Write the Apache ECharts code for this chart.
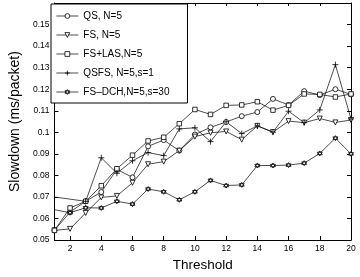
<!DOCTYPE html>
<html>
<head>
<meta charset="utf-8">
<script src="https://cdn.jsdelivr.net/npm/echarts@6/dist/echarts.min.js"></script>
<style>html,body{margin:0;padding:0;background:#fff}#c{width:360px;height:277px}</style>
</head>
<body>
<div id="c"></div>
<script>
// ---- data ----
const thresholds = [1,2,3,4,5,6,7,8,9,10,11,12,13,14,15,16,17,18,19,20];
const qs    = [0.0545,0.0630,0.0680,0.0723,0.0828,0.0791,0.0935,0.0964,0.0915,0.0990,0.1023,0.1048,0.1075,0.1094,0.1155,0.1127,0.1191,0.1173,0.1200,0.1176];
const fs    = [0.0545,0.0552,0.0626,0.0698,0.0705,0.0766,0.0852,0.0864,0.0915,0.0980,0.0998,0.1004,0.0966,0.1030,0.1001,0.1052,0.1045,0.1064,0.1046,0.1057];
const fsLas = [0.0545,0.0649,0.0680,0.0752,0.0831,0.0894,0.0960,0.0977,0.1040,0.1106,0.1083,0.1125,0.1127,0.1142,0.1103,0.1125,0.1178,0.1176,0.1164,0.1178];
const qsfsX = [0,3,4,5,6,7,8,9,10,11,12,13,14,15,16,17,18,19,20];
const qsfs  = [0.0710,0.0680,0.0882,0.0810,0.0868,0.0906,0.0892,0.1016,0.1021,0.0957,0.1049,0.0994,0.1030,0.1001,0.1098,0.1045,0.1104,0.1314,0.1062];
const dchX  = [0,2,3,4,5,6,7,8,9,10,11,12,13,14,15,16,17,18,19,20];
const fsDch = [0.0655,0.0627,0.0650,0.0649,0.0680,0.0667,0.0737,0.0724,0.0687,0.0724,0.0777,0.0753,0.0756,0.0846,0.0846,0.0848,0.0857,0.0902,0.0973,0.0900];
const xTicks = [2,4,6,8,10,12,14,16,18,20];
const yTicks = [0.05,0.06,0.07,0.08,0.09,0.10,0.11,0.12,0.13,0.14,0.15];
const seriesNames = ['QS, N=5','FS, N=5','FS+LAS,N=5','QSFS, N=5,s=1','FS–DCH,N=5,s=30'];

const FONT = 'Liberation Sans';
const pairs = (xs, ys) => xs.map((x, i) => [x, ys[i]]);

function mk(name, data, symbol, extra) {
  return Object.assign({
    name: name, type: 'line', data: data,
    symbol: symbol, symbolSize: 5,
    lineStyle: {color: '#000', width: 0.7},
    itemStyle: {color: '#fff', borderColor: '#000', borderWidth: 0.8},
    emphasis: {disabled: true},
    clip: true, z: 3
  }, extra || {});
}

const axisCommon = {
  axisLine: {show: true, lineStyle: {color: '#000', width: 1}},
  axisTick: {show: true, inside: true, length: 4, lineStyle: {color: '#000', width: 1}},
  splitLine: {show: false}
};

const chart = echarts.init(document.getElementById('c'), null, {renderer: 'canvas'});
chart.setOption({
  animation: false,
  backgroundColor: '#fff',
  grid: {left: 42, right: 9, top: 3, bottom: 30, containLabel: false},
  legend: {
    left: 51, top: 4, orient: 'vertical',
    itemWidth: 22, itemHeight: 6, itemGap: 9,
    padding: [7, 18, 6, 5],
    borderColor: '#000', borderWidth: 1, backgroundColor: '#fff',
    itemStyle: {color: '#fff', borderColor: '#000', borderWidth: 0.8},
    lineStyle: {color: '#000', width: 0.7},
    textStyle: {fontSize: 10, color: '#000', fontFamily: FONT},
    data: seriesNames
  },
  xAxis: [
    Object.assign({}, axisCommon, {
      type: 'value', min: 1, max: 20, position: 'bottom',
      name: 'Threshold', nameLocation: 'middle', nameGap: 12,
      nameTextStyle: {fontSize: 13.5, color: '#000', fontFamily: FONT},
      axisTick: Object.assign({}, axisCommon.axisTick, {customValues: xTicks}),
      axisLabel: {customValues: xTicks, fontSize: 8.5, color: '#000', fontFamily: FONT, margin: 4}
    }),
    Object.assign({}, axisCommon, {
      type: 'value', min: 1, max: 20, position: 'top',
      axisTick: Object.assign({}, axisCommon.axisTick, {customValues: xTicks, length: 3}),
      axisLabel: {show: false}
    })
  ],
  yAxis: [
    Object.assign({}, axisCommon, {
      type: 'value', min: 0.05, max: 0.16, position: 'left',
      name: 'Slowdown (ms/packet)', nameLocation: 'middle', nameGap: 23,
      nameTextStyle: {fontSize: 14, color: '#000', fontFamily: FONT},
      axisTick: Object.assign({}, axisCommon.axisTick, {customValues: yTicks}),
      axisLabel: {customValues: yTicks, fontSize: 8.5, color: '#000', fontFamily: FONT, margin: 5,
        formatter: v => String(Math.round(v * 100) / 100)}
    }),
    Object.assign({}, axisCommon, {
      type: 'value', min: 0.05, max: 0.16, position: 'right',
      axisTick: Object.assign({}, axisCommon.axisTick, {customValues: yTicks}),
      axisLabel: {show: false}
    })
  ],
  series: [
    mk(seriesNames[0], pairs(thresholds, qs), 'circle'),
    mk(seriesNames[1], pairs(thresholds, fs), 'triangle', {symbolRotate: 180}),
    mk(seriesNames[2], pairs(thresholds, fsLas), 'rect', {symbolSize: 4.5}),
    mk(seriesNames[3], pairs(qsfsX, qsfs), 'path://M0,5L10,5M5,0L5,10', {symbolSize: 6}),
    mk(seriesNames[4], pairs(dchX, fsDch), 'path://M5,0L9.33,7.5L0.67,7.5Z M5,10L0.67,2.5L9.33,2.5Z')
  ]
});
</script>
</body>
</html>
